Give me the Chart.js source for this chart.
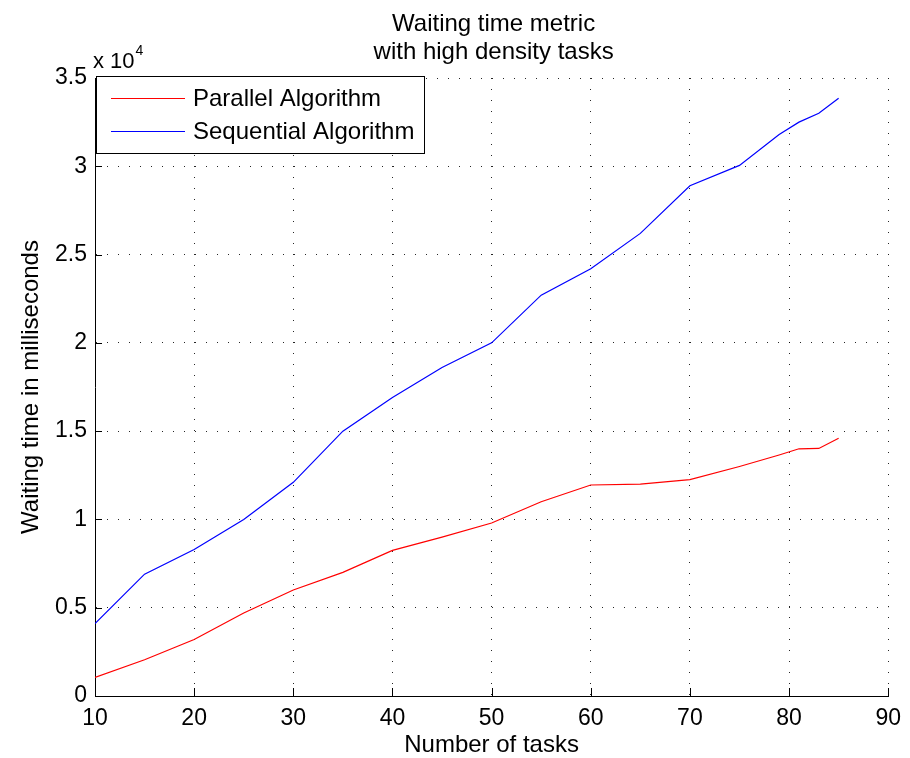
<!DOCTYPE html>
<html>
<head>
<meta charset="utf-8">
<script src="https://cdn.jsdelivr.net/npm/chart.js@4.4.0/dist/chart.umd.min.js"></script>
<style>
  html, body { margin: 0; padding: 0; background: #fff; }
  #wrap { width: 910px; height: 758px; position: relative; }
</style>
</head>
<body>
<div id="wrap"><canvas id="c" width="910" height="758"></canvas></div>
<script>
const tasks = [10, 15, 20, 25, 30, 35, 40, 45, 50, 55, 60, 65, 70, 75, 79, 81, 83, 85];
const parallelMs = [1050, 2050, 3200, 4700, 6000, 7000, 8250, 9000, 9800, 11000, 11950, 12000, 12250, 13000, 13650, 14000, 14020, 14600];
const sequentialMs = [4100, 6900, 8300, 10000, 12100, 15000, 16900, 18600, 20000, 22700, 24200, 26200, 28900, 30050, 31800, 32500, 33000, 33850];
const seriesLabels = ['Parallel Algorithm', 'Sequential Algorithm'];
const titleLines = ['Waiting time metric', 'with high density tasks'];
const xTitle = 'Number of tasks';
const yTitle = 'Waiting time in milliseconds';
const yExponent = 4;

const FONT = '"Liberation Sans", Arial, Helvetica, sans-serif';

const toPoints = (ys) => tasks.map((t, i) => ({ x: t, y: ys[i] }));

const overlayPlugin = {
  id: 'matlabOverlay',
  afterDraw(chart) {
    const ctx = chart.ctx;
    const xs = chart.scales.x, ys = chart.scales.y;
    const area = chart.chartArea;
    ctx.save();
    // title, centred over the axes
    ctx.fillStyle = '#000';
    ctx.textAlign = 'center';
    ctx.textBaseline = 'alphabetic';
    ctx.font = '24px ' + FONT;
    const cx = (area.left + area.right) / 2 + 2;
    ctx.fillText(titleLines[0], cx, 31);
    ctx.fillText(titleLines[1], cx, 59);

    // inward tick marks
    ctx.strokeStyle = '#000';
    ctx.lineWidth = 1;
    ctx.beginPath();
    xs.ticks.forEach(t => {
      const px = Math.round(xs.getPixelForValue(t.value)) + 0.5;
      ctx.moveTo(px, area.bottom);
      ctx.lineTo(px, area.bottom - 8);
    });
    ys.ticks.forEach(t => {
      const py = Math.round(ys.getPixelForValue(t.value)) + 0.5;
      ctx.moveTo(area.left, py);
      ctx.lineTo(area.left + 7, py);
    });
    ctx.stroke();

    // exponent label "x 10^4"
    ctx.fillStyle = '#000';
    ctx.textAlign = 'left';
    ctx.textBaseline = 'alphabetic';
    ctx.font = '22px ' + FONT;
    ctx.fillText('x 10', area.left - 2, area.top - 10);
    const w = ctx.measureText('x 10').width;
    ctx.font = '14px ' + FONT;
    ctx.fillText(String(yExponent), area.left - 1 + w, area.top - 23);

    // legend box
    const lx = 96.5, ly = 76.5, lw = 328, lh = 77;
    ctx.fillStyle = '#fff';
    ctx.fillRect(lx, ly, lw, lh);
    ctx.strokeStyle = '#000';
    ctx.lineWidth = 1;
    ctx.strokeRect(lx, ly, lw, lh);
    const rows = [98.5, 131.5];
    ctx.font = '24px ' + FONT;
    ctx.textBaseline = 'middle';
    chart.data.datasets.forEach((ds, i) => {
      ctx.strokeStyle = ds.borderColor;
      ctx.lineWidth = 1.2;
      ctx.beginPath();
      ctx.moveTo(111, rows[i]);
      ctx.lineTo(185, rows[i]);
      ctx.stroke();
      ctx.fillStyle = '#000';
      ctx.fillText(ds.label, 193, rows[i] + 1);
    });
    ctx.restore();
  }
};

new Chart(document.getElementById('c'), {
  type: 'line',
  data: {
    datasets: [
      { label: seriesLabels[0], data: toPoints(parallelMs), borderColor: '#ff0000', borderWidth: 1.2, pointRadius: 0, tension: 0, fill: false },
      { label: seriesLabels[1], data: toPoints(sequentialMs), borderColor: '#0000ff', borderWidth: 1.2, pointRadius: 0, tension: 0, fill: false }
    ]
  },
  options: {
    responsive: false,
    animation: false,
    devicePixelRatio: 1,
    layout: { padding: { left: 0, right: 16, top: 78, bottom: 0 } },
    plugins: {
      legend: { display: false },
      tooltip: { enabled: false },
      title: { display: false }
    },
    scales: {
      x: {
        type: 'linear',
        min: 10, max: 90,
        ticks: { stepSize: 10, color: '#000', padding: 9, font: { family: FONT, size: 23 }, maxRotation: 0 },
        grid: { color: 'rgba(0,0,0,0.85)', lineWidth: 1, drawTicks: false },
        border: { display: true, color: '#000', width: 1, dash: [1, 10] },
        title: { display: true, text: xTitle, color: '#000', font: { family: FONT, size: 24, lineHeight: 1 }, padding: { top: 0, bottom: 1 } },
        afterFit(scale) { scale.height = 62; }
      },
      y: {
        type: 'linear',
        min: 0, max: 35000,
        ticks: {
          stepSize: 5000, color: '#000', padding: 8, font: { family: FONT, size: 23 },
          callback: (v) => String(v / Math.pow(10, yExponent))
        },
        grid: { color: 'rgba(0,0,0,0.85)', lineWidth: 1, drawTicks: false },
        border: { display: true, color: '#000', width: 1, dash: [1, 10] },
        title: { display: true, text: yTitle, color: '#000', font: { family: FONT, size: 24, lineHeight: 1 }, padding: { top: 19, bottom: 0 } },
        afterFit(scale) { scale.width = 95; }
      }
    }
  },
  plugins: [overlayPlugin]
});
</script>
</body>
</html>
